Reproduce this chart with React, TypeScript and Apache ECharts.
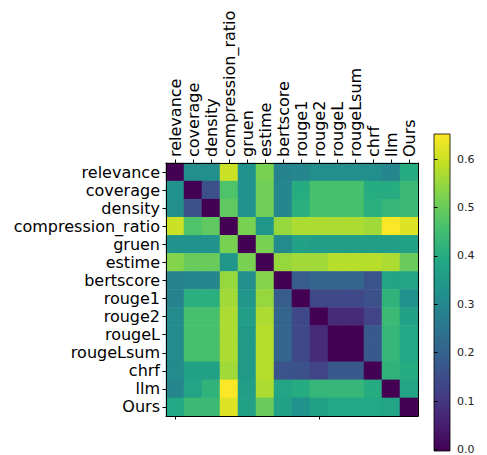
import React, { useEffect, useRef } from "react";
import * as echarts from "echarts";

const labels = [
  "relevance", "coverage", "density", "compression_ratio", "gruen", "estime",
  "bertscore", "rouge1", "rouge2", "rougeL", "rougeLsum", "chrf", "llm", "Ours",
];

// rows follow labels order; columns follow labels order
const rowRelevance = [0, 0.32, 0.32, 0.60, 0.33, 0.52, 0.29, 0.30, 0.32, 0.32, 0.32, 0.32, 0.30, 0.40];
const rowCoverage = [0.33, 0, 0.16, 0.47, 0.33, 0.51, 0.30, 0.40, 0.46, 0.46, 0.46, 0.40, 0.40, 0.44];
const rowDensity = [0.32, 0.16, 0, 0.49, 0.33, 0.51, 0.30, 0.41, 0.46, 0.46, 0.46, 0.41, 0.43, 0.44];
const rowCompression = [0.60, 0.47, 0.49, 0, 0.52, 0.34, 0.55, 0.57, 0.57, 0.57, 0.57, 0.56, 0.65, 0.62];
const rowGruen = [0.33, 0.33, 0.33, 0.52, 0, 0.52, 0.31, 0.37, 0.36, 0.36, 0.36, 0.36, 0.36, 0.37];
const rowEstime = [0.53, 0.50, 0.50, 0.34, 0.52, 0, 0.55, 0.56, 0.56, 0.58, 0.58, 0.58, 0.57, 0.50];
const rowBertscore = [0.29, 0.30, 0.30, 0.55, 0.32, 0.53, 0, 0.19, 0.21, 0.21, 0.21, 0.17, 0.38, 0.38];
const rowRouge1 = [0.29, 0.41, 0.41, 0.56, 0.34, 0.55, 0.19, 0, 0.14, 0.14, 0.14, 0.16, 0.42, 0.33];
const rowRouge2 = [0.31, 0.46, 0.46, 0.57, 0.36, 0.57, 0.21, 0.14, 0, 0.08, 0.08, 0.13, 0.44, 0.37];
const rowRougeL = [0.31, 0.46, 0.46, 0.57, 0.35, 0.58, 0.21, 0.14, 0.08, 0, 0.0, 0.18, 0.43, 0.39];
const rowRougeLsum = [0.31, 0.46, 0.46, 0.57, 0.35, 0.58, 0.21, 0.14, 0.08, 0.0, 0, 0.18, 0.43, 0.39];
const rowChrf = [0.31, 0.37, 0.37, 0.56, 0.35, 0.58, 0.17, 0.16, 0.13, 0.18, 0.18, 0, 0.42, 0.40];
const rowLlm = [0.30, 0.38, 0.42, 0.65, 0.36, 0.57, 0.38, 0.40, 0.43, 0.43, 0.43, 0.40, 0, 0.38];
const rowOurs = [0.39, 0.44, 0.44, 0.62, 0.37, 0.50, 0.37, 0.33, 0.37, 0.39, 0.39, 0.39, 0.38, 0];

const matrix = [
  rowRelevance, rowCoverage, rowDensity, rowCompression, rowGruen, rowEstime,
  rowBertscore, rowRouge1, rowRouge2, rowRougeL, rowRougeLsum, rowChrf, rowLlm, rowOurs,
];

const colorbarMin = 0;
const colorbarMax = 0.652;
const colorbarTicks = [0, 0.1, 0.2, 0.3, 0.4, 0.5, 0.6];

const viridis = [
  "#440154", "#482475", "#414487", "#355f8d", "#2a788e", "#21918c",
  "#22a884", "#44bf70", "#7ad151", "#bddf26", "#fde725",
];

const FONT = "DejaVu Sans";

export default function App() {
  const ref = useRef<HTMLDivElement>(null);

  useEffect(() => {
    document.body.style.margin = "0";
    if (!ref.current) return;
    const chart = echarts.init(ref.current, undefined, { renderer: "svg" });

    const data: [number, number, number][] = [];
    matrix.forEach((row, r) => row.forEach((v, c) => data.push([c, r, v])));

    const gx = 166, gy = 163, gw = 252, gh = 253;
    const cbx = 434, cby = 134, cbw = 16, cbh = 317;

    const option: any = {
      animation: false,
      backgroundColor: "#fff",
      textStyle: { fontFamily: FONT },
      grid: [
        { left: gx, top: gy, width: gw, height: gh, containLabel: false },
        { left: cbx, top: cby, width: cbw, height: cbh, containLabel: false },
      ],
      visualMap: {
        show: false,
        type: "continuous",
        min: colorbarMin,
        max: colorbarMax,
        dimension: 2,
        seriesIndex: 0,
        inRange: { color: viridis },
      },
      xAxis: [
        {
          type: "category", gridIndex: 0, data: labels, position: "top", z: 10,
          axisLine: { show: true, lineStyle: { color: "#000", width: 1 } },
          axisTick: { show: true, alignWithLabel: true, length: 3.5, lineStyle: { color: "#000" } },
          axisLabel: {
            rotate: -90, color: "#000", fontSize: 16, lineHeight: 16, fontFamily: FONT, margin: 6, interval: 0,
          },
          splitLine: { show: false },
        },
        {
          type: "category", gridIndex: 0, data: labels, position: "bottom", z: 10,
          axisLine: { show: true, lineStyle: { color: "#000", width: 1 } },
          axisTick: { show: true, alignWithLabel: true, length: 3.5, lineStyle: { color: "#000" } },
          axisLabel: { show: false },
          splitLine: { show: false },
        },
        {
          type: "value", gridIndex: 1, min: 0, max: 1, show: false,
        },
      ],
      yAxis: [
        {
          type: "category", gridIndex: 0, data: labels, inverse: true, position: "left", z: 10,
          axisLine: { show: true, lineStyle: { color: "#000", width: 1 } },
          axisTick: { show: true, alignWithLabel: true, length: 3.5, lineStyle: { color: "#000" } },
          axisLabel: { color: "#000", fontSize: 16, lineHeight: 16, fontFamily: FONT, margin: 6, interval: 0 },
          splitLine: { show: false },
        },
        {
          type: "category", gridIndex: 0, data: labels, inverse: true, position: "right", z: 10,
          axisLine: { show: true, lineStyle: { color: "#000", width: 1 } },
          axisTick: { show: false },
          axisLabel: { show: false },
          splitLine: { show: false },
        },
        {
          type: "value", gridIndex: 1, min: colorbarMin, max: colorbarMax,
          position: "right", z: 10,
          axisLine: { show: false },
          axisTick: { show: true, length: 3.5, lineStyle: { color: "#000" }, customValues: colorbarTicks },
          axisLabel: {
            color: "#222", fontSize: 11, fontFamily: FONT, margin: 7,
            customValues: colorbarTicks,
            formatter: (v: number) => v.toFixed(1),
          },
          splitLine: { show: false },
        },
      ],
      graphic: [
        {
          type: "rect",
          z: 1,
          shape: { x: cbx, y: cby, width: cbw, height: cbh },
          style: {
            fill: new echarts.graphic.LinearGradient(
              0, 1, 0, 0,
              viridis.map((c, i) => ({ offset: i / (viridis.length - 1), color: c }))
            ),
            stroke: "#000",
            lineWidth: 0.8,
          },
        },
      ],
      series: [
        {
          type: "heatmap",
          xAxisIndex: 0,
          yAxisIndex: 0,
          data,
          itemStyle: { borderWidth: 0 },
          emphasis: { disabled: true },
          label: { show: false },
        },
      ],
    };

    chart.setOption(option);
    return () => chart.dispose();
  }, []);

  return <div ref={ref} style={{ width: 487, height: 455 }} />;
}
